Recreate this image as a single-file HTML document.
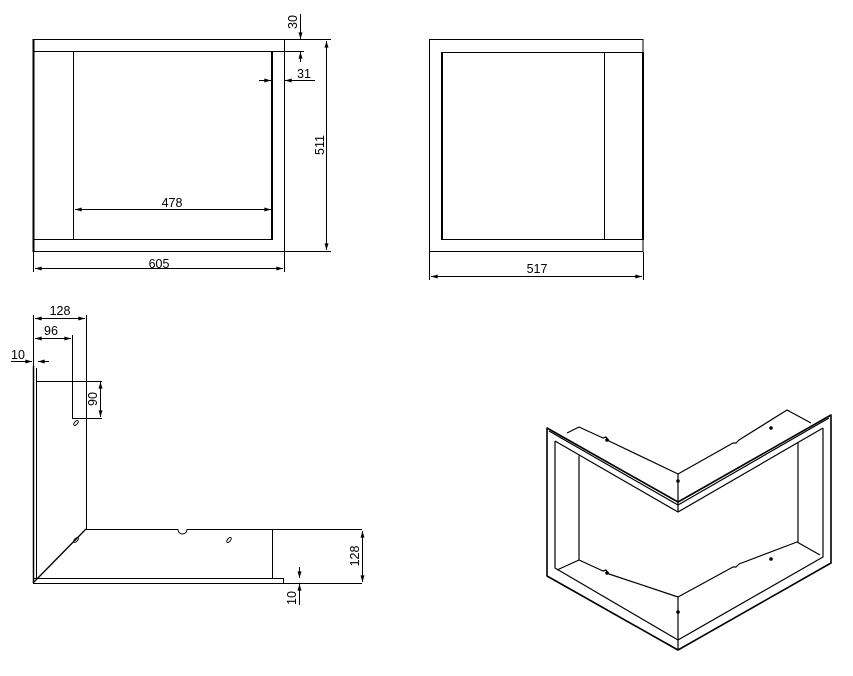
<!DOCTYPE html>
<html><head><meta charset="utf-8"><style>
html,body{margin:0;padding:0;background:#fff;width:853px;height:676px;overflow:hidden}
text{font-family:"Liberation Sans",sans-serif;font-size:12.5px;fill:#000}
</style></head><body>
<svg width="853" height="676" viewBox="0 0 853 676" xmlns="http://www.w3.org/2000/svg">
<defs>
<marker id="a" viewBox="0 0 10 6" refX="10" refY="3" markerWidth="7" markerHeight="4" orient="auto-start-reverse"><path d="M0,0L10,3L0,6z" fill="#000"/></marker>
</defs>
<g stroke="#000" fill="none" stroke-width="1">
<!-- View 1 -->
<rect x="33.5" y="39.5" width="251" height="212"/>
<line x1="33" y1="51.5" x2="272" y2="51.5"/>
<line x1="33" y1="239.5" x2="272" y2="239.5"/>
<line x1="73.5" y1="51" x2="73.5" y2="239"/>
<line x1="272" y1="51" x2="272" y2="240" stroke-width="2"/>
<line x1="33.5" y1="39" x2="33.5" y2="252" stroke-width="2"/>
<line x1="35" y1="268.5" x2="283" y2="268.5" marker-start="url(#a)" marker-end="url(#a)"/>
<line x1="33.5" y1="252" x2="33.5" y2="272"/><line x1="284.5" y1="252" x2="284.5" y2="272"/>
<line x1="75" y1="209.5" x2="271" y2="209.5" marker-start="url(#a)" marker-end="url(#a)"/>
<line x1="285" y1="39.5" x2="331" y2="39.5"/><line x1="285" y1="251.5" x2="331" y2="251.5"/>
<line x1="326.5" y1="41" x2="326.5" y2="250" marker-start="url(#a)" marker-end="url(#a)"/>
<line x1="300.5" y1="14" x2="300.5" y2="39" marker-end="url(#a)"/>
<line x1="300.5" y1="62" x2="300.5" y2="52" marker-end="url(#a)"/>
<line x1="273" y1="51.5" x2="304" y2="51.5"/>
<line x1="259" y1="80.5" x2="271" y2="80.5" marker-end="url(#a)"/>
<line x1="315" y1="80.5" x2="285" y2="80.5" marker-end="url(#a)"/>
<!-- View 2 -->
<rect x="429.5" y="39.5" width="213.5" height="212"/>
<line x1="442" y1="52.5" x2="643" y2="52.5"/>
<line x1="442" y1="239.5" x2="643" y2="239.5"/>
<line x1="442" y1="52" x2="442" y2="240" stroke-width="2"/>
<line x1="604.5" y1="52" x2="604.5" y2="240"/>
<line x1="643" y1="52" x2="643" y2="240" stroke-width="2"/>
<line x1="429.5" y1="252" x2="429.5" y2="280"/><line x1="643.5" y1="252" x2="643.5" y2="280"/>
<line x1="431" y1="276.5" x2="642" y2="276.5" marker-start="url(#a)" marker-end="url(#a)"/>
<!-- View 3 -->
<line x1="33.5" y1="366" x2="33.5" y2="583" stroke-width="1.5"/>
<line x1="36.5" y1="368" x2="36.5" y2="579"/>
<line x1="36" y1="381.5" x2="102" y2="381.5"/>
<line x1="86.5" y1="315" x2="86.5" y2="529"/>
<line x1="72.5" y1="335" x2="72.5" y2="418"/>
<line x1="72" y1="418.5" x2="102" y2="418.5"/>
<ellipse cx="76" cy="423" rx="1.5" ry="3" transform="rotate(40 76 423)"/>
<path d="M86,529.5H178A4,4 0 0 0 187,529.5H362"/>
<line x1="272.5" y1="529" x2="272.5" y2="578"/>
<line x1="33" y1="578.5" x2="284" y2="578.5"/>
<line x1="33" y1="583.5" x2="362" y2="583.5"/>
<line x1="283.5" y1="578" x2="283.5" y2="583"/>
<line x1="33" y1="583" x2="86" y2="529" stroke-width="1.3"/>
<ellipse cx="76" cy="540" rx="1.5" ry="3" transform="rotate(45 76 540)"/>
<ellipse cx="229" cy="540" rx="1.5" ry="3" transform="rotate(40 229 540)"/>
<line x1="35" y1="318.5" x2="85" y2="318.5" marker-start="url(#a)" marker-end="url(#a)"/>
<line x1="33.5" y1="315" x2="33.5" y2="366"/>
<line x1="35" y1="338.5" x2="71" y2="338.5" marker-start="url(#a)" marker-end="url(#a)"/>
<line x1="11" y1="361.5" x2="32" y2="361.5" marker-end="url(#a)"/>
<line x1="49" y1="361.5" x2="38" y2="361.5" marker-end="url(#a)"/>
<line x1="100.5" y1="382" x2="100.5" y2="417" marker-start="url(#a)" marker-end="url(#a)"/>
<line x1="362.5" y1="531" x2="362.5" y2="582" marker-start="url(#a)" marker-end="url(#a)"/>
<line x1="299.5" y1="567" x2="299.5" y2="578" marker-end="url(#a)"/>
<line x1="299.5" y1="605" x2="299.5" y2="584" marker-end="url(#a)"/>
<!-- Iso view -->
<g stroke-width="1.2" stroke-linejoin="round">
<path d="M547,428L678,502L831,415L831,563L678,650L547,576Z" stroke-width="1.6"/>
<path d="M549,431L678,505L829,418"/>
<path d="M555,441L678,512L823,428"/>
<path d="M555,441V568L678,640L823,557V428"/>
<path d="M579,455V560"/><path d="M798,443V542"/>
<path d="M567,433L579,427L603,438L606,437L609,441L678,474L733,443L736,443L739,440L787,410L811,423"/>
<path d="M678,474V512"/>
<path d="M579,560L557,570"/>
<path d="M579,560L603,571L606,570L609,574L678,597L733,567L736,567L739,564L797,542L820,555"/>
<path d="M678,597V650"/>
</g>
<circle cx="607" cy="440" r="1.3" fill="#000"/>
<circle cx="771" cy="428" r="1.3" fill="#000"/>
<circle cx="678" cy="481" r="1.3" fill="#000"/>
<circle cx="607" cy="573" r="1.3" fill="#000"/>
<circle cx="771" cy="559" r="1.3" fill="#000"/>
<circle cx="678" cy="612" r="1.3" fill="#000"/>
</g>
<text x="159" y="268" text-anchor="middle">605</text>
<text x="172" y="207" text-anchor="middle">478</text>
<text x="304" y="78" text-anchor="middle">31</text>
<text transform="translate(324,145) rotate(-90)" text-anchor="middle">511</text>
<text transform="translate(297,22) rotate(-90)" text-anchor="middle">30</text>
<text x="537" y="273" text-anchor="middle">517</text>
<text x="60" y="315" text-anchor="middle">128</text>
<text x="51" y="335" text-anchor="middle">96</text>
<text x="18" y="359" text-anchor="middle">10</text>
<text transform="translate(97,399) rotate(-90)" text-anchor="middle">90</text>
<text transform="translate(359,556) rotate(-90)" text-anchor="middle">128</text>
<text transform="translate(296,598) rotate(-90)" text-anchor="middle">10</text>
</svg>
</body></html>
